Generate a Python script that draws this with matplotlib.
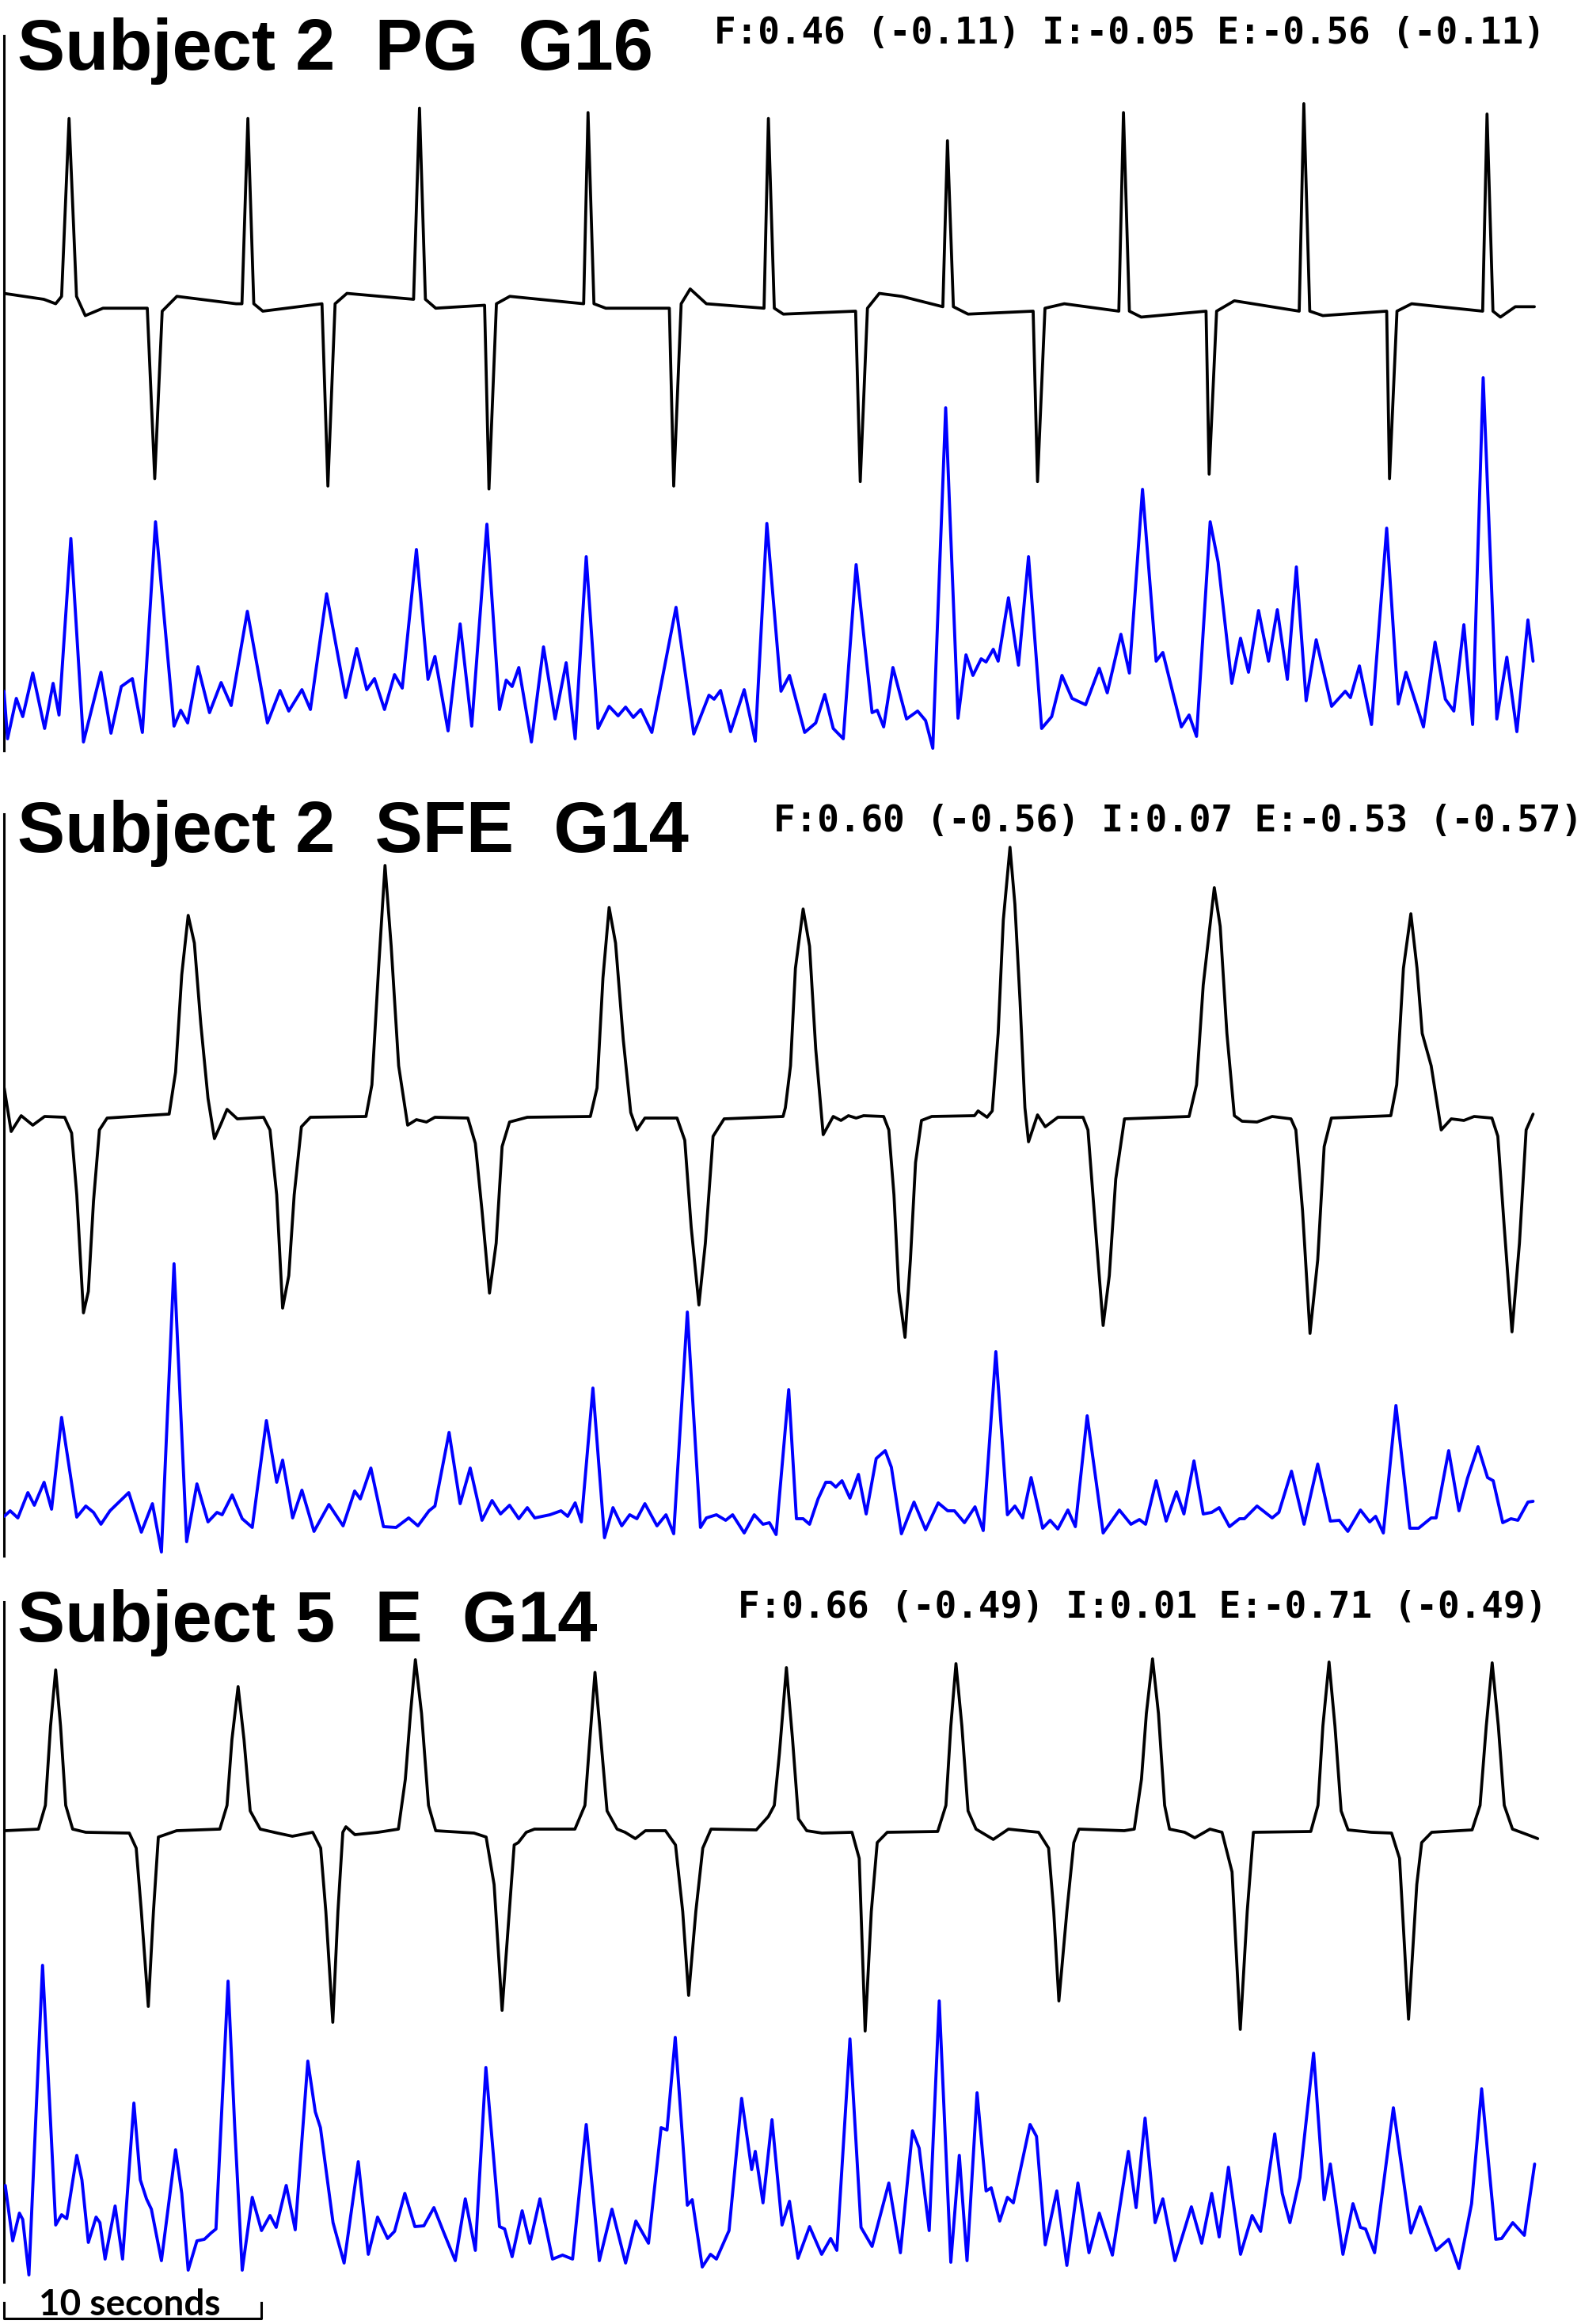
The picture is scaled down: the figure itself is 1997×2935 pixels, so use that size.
import matplotlib
matplotlib.use("Agg")
import matplotlib.pyplot as plt

# time in seconds, amplitude in arbitrary units

titles = ["Subject 2  PG  G16", "Subject 2  SFE  G14", "Subject 5  E  G14"]
scores = ["F:0.46 (-0.11) I:-0.05 E:-0.56 (-0.11)",
          "F:0.60 (-0.56) I:0.07 E:-0.53 (-0.57)",
          "F:0.66 (-0.49) I:0.01 E:-0.71 (-0.49)"]

pg_movement = [
    (0.00, 0.04), (1.55, 0.00), (2.01, -0.03), (2.24, 0.02), (2.53, 1.22), (2.82, 0.02), (3.16, -0.11), (3.85, -0.06),
    (5.57, -0.06), (5.86, -1.21), (6.15, -0.08), (6.72, 0.02),
    (9.02, -0.03), (9.25, -0.03), (9.48, 1.22), (9.71, -0.03), (10.06, -0.08),
    (12.36, -0.03), (12.59, -1.26), (12.87, -0.03), (13.33, 0.04),
    (15.92, 0.00), (16.15, 1.29), (16.38, 0.00), (16.78, -0.06),
    (18.68, -0.04), (18.85, -1.28), (19.14, -0.03), (19.66, 0.02),
    (22.53, -0.03), (22.70, 1.26), (22.93, -0.03), (23.39, -0.06),
    (25.86, -0.06), (26.03, -1.26), (26.32, -0.03), (26.67, 0.07), (27.30, -0.03),
    (29.54, -0.06), (29.71, 1.22), (29.94, -0.06), (30.29, -0.10),
    (33.10, -0.08), (33.28, -1.23), (33.56, -0.06), (34.02, 0.04), (34.89, 0.02),
    (36.49, -0.05), (36.67, 1.07), (36.90, -0.05), (37.47, -0.10),
    (40.00, -0.08), (40.17, -1.23), (40.46, -0.06), (41.21, -0.03),
    (43.33, -0.08), (43.51, 1.26), (43.74, -0.08), (44.20, -0.12),
    (46.72, -0.08), (46.84, -1.18), (47.13, -0.08), (47.82, -0.01),
    (50.34, -0.08), (50.52, 1.32), (50.75, -0.08), (51.26, -0.11),
    (53.74, -0.08), (53.85, -1.21), (54.14, -0.08), (54.71, -0.03),
    (57.47, -0.08), (57.64, 1.25), (57.87, -0.08), (58.16, -0.12), (58.74, -0.05), (59.48, -0.05),
]

pg_activity = [
    (0.00, 0.67), (0.14, 0.07), (0.48, 0.58), (0.73, 0.35), (1.12, 0.90), (1.58, 0.20), (1.91, 0.77), (2.14, 0.37),
    (2.60, 2.60), (3.09, 0.03), (3.77, 0.91), (4.16, 0.14), (4.56, 0.73), (4.99, 0.83), (5.38, 0.15), (5.89, 2.81),
    (6.61, 0.23), (6.87, 0.43), (7.14, 0.27), (7.54, 0.98), (7.99, 0.40), (8.44, 0.78), (8.83, 0.49), (9.46, 1.68),
    (10.24, 0.27), (10.73, 0.68), (11.07, 0.42), (11.58, 0.69), (11.91, 0.44), (12.54, 1.90), (13.28, 0.59),
    (13.71, 1.21), (14.10, 0.69), (14.40, 0.83), (14.79, 0.44), (15.18, 0.88), (15.48, 0.71), (16.03, 2.46),
    (16.48, 0.82), (16.75, 1.11), (17.26, 0.17), (17.73, 1.52), (18.18, 0.23), (18.77, 2.78), (19.26, 0.44),
    (19.52, 0.81), (19.75, 0.73), (20.01, 0.97), (20.50, 0.03), (20.97, 1.23), (21.42, 0.32), (21.85, 1.03),
    (22.20, 0.07), (22.63, 2.37), (23.09, 0.20), (23.52, 0.48), (23.87, 0.36), (24.16, 0.47), (24.46, 0.34),
    (24.75, 0.44), (25.18, 0.15), (26.12, 1.73), (26.81, 0.13), (27.40, 0.62), (27.60, 0.57), (27.85, 0.68),
    (28.24, 0.16), (28.77, 0.69), (29.20, 0.04), (29.65, 2.79), (30.20, 0.67), (30.53, 0.87),
    (31.12, 0.15), (31.55, 0.27), (31.90, 0.63), (32.23, 0.20), (32.62, 0.07), (33.12, 2.27), (33.74, 0.40),
    (33.94, 0.43), (34.19, 0.22), (34.55, 0.97), (35.08, 0.32), (35.51, 0.42), (35.82, 0.30), (36.10, -0.05),
    (36.60, 4.25), (37.08, 0.33), (37.39, 1.13), (37.66, 0.87), (37.98, 1.08), (38.17, 1.04), (38.45, 1.20),
    (38.64, 1.05), (39.04, 1.85), (39.43, 1.00), (39.82, 2.37), (40.33, 0.20), (40.72, 0.35), (41.12, 0.87),
    (41.51, 0.58), (42.04, 0.50), (42.57, 0.96), (42.88, 0.65), (43.41, 1.39), (43.74, 0.90), (44.25, 3.22),
    (44.78, 1.05), (45.04, 1.16), (45.76, 0.22), (46.06, 0.37), (46.35, 0.10), (46.88, 2.81), (47.19, 2.30),
    (47.72, 0.77), (48.06, 1.34), (48.37, 0.91), (48.76, 1.69), (49.15, 1.05), (49.49, 1.70), (49.88, 0.82),
    (50.23, 2.24), (50.61, 0.55), (51.00, 1.32), (51.60, 0.48), (52.13, 0.67), (52.33, 0.59), (52.68, 0.99),
    (53.15, 0.25), (53.74, 2.73), (54.19, 0.51), (54.49, 0.91), (55.17, 0.22), (55.62, 1.29), (56.02, 0.57),
    (56.35, 0.42), (56.74, 1.51), (57.08, 0.25), (57.49, 4.63), (58.02, 0.32), (58.41, 1.10), (58.80, 0.16),
    (59.23, 1.57), (59.43, 1.05),
]

sfe_movement = [
    (0.01, 0.37), (0.28, -0.18), (0.67, 0.02), (1.12, -0.10), (1.58, 0.01), (2.36, 0.00),
    (2.63, -0.20), (2.83, -0.98), (3.09, -2.47), (3.28, -2.20), (3.48, -1.06), (3.71, -0.16), (4.01, -0.01),
    (6.42, 0.04), (6.67, 0.57), (6.91, 1.80), (7.16, 2.55), (7.40, 2.20), (7.65, 1.18), (7.93, 0.24),
    (8.18, -0.27), (8.44, -0.08), (8.67, 0.10), (9.07, -0.02), (10.09, 0.00),
    (10.34, -0.16), (10.60, -0.98), (10.83, -2.41), (11.07, -2.00), (11.28, -0.98), (11.56, -0.12), (11.91, 0.00),
    (14.07, 0.01), (14.30, 0.41), (14.56, 1.88), (14.81, 3.18), (15.05, 2.16), (15.34, 0.65), (15.69, -0.10),
    (16.03, -0.03), (16.42, -0.06), (16.75, 0.00), (18.03, -0.01),
    (18.32, -0.33), (18.58, -1.18), (18.87, -2.22), (19.13, -1.59), (19.36, -0.37), (19.65, -0.06), (20.34, 0.00),
    (22.79, 0.01), (23.05, 0.37), (23.28, 1.76), (23.52, 2.65), (23.77, 2.20), (24.07, 0.98), (24.36, 0.06),
    (24.60, -0.16), (24.91, -0.01), (26.16, -0.01),
    (26.46, -0.29), (26.71, -1.39), (27.01, -2.37), (27.26, -1.59), (27.56, -0.24), (27.99, -0.02), (30.28, 0.01),
    (30.37, 0.12), (30.57, 0.65), (30.76, 1.88), (31.06, 2.63), (31.31, 2.16), (31.55, 0.86), (31.84, -0.22),
    (32.23, 0.01), (32.53, -0.04), (32.82, 0.02), (33.12, -0.01), (33.41, 0.02), (34.19, 0.01),
    (34.39, -0.16), (34.59, -0.98), (34.78, -2.20), (35.02, -2.78), (35.23, -1.80), (35.43, -0.57), (35.66, -0.04),
    (36.06, 0.01), (37.72, 0.02), (37.86, 0.08), (38.21, 0.00), (38.41, 0.08),
    (38.64, 1.06), (38.84, 2.49), (39.10, 3.41), (39.29, 2.69), (39.49, 1.47), (39.68, 0.12), (39.82, -0.31),
    (40.17, 0.03), (40.47, -0.12), (40.96, 0.00), (41.94, 0.00),
    (42.13, -0.16), (42.37, -1.18), (42.72, -2.63), (42.96, -2.00), (43.21, -0.78), (43.55, -0.02),
    (46.06, 0.01), (46.35, 0.41), (46.61, 1.67), (47.04, 2.90), (47.27, 2.41), (47.53, 1.06), (47.82, 0.02),
    (48.12, -0.05), (48.70, -0.06), (49.29, 0.01), (50.02, -0.02),
    (50.21, -0.16), (50.47, -1.18), (50.76, -2.73), (51.06, -1.80), (51.31, -0.37), (51.59, -0.01),
    (53.90, 0.02), (54.13, 0.41), (54.39, 1.88), (54.68, 2.57), (54.92, 1.88), (55.12, 1.06), (55.47, 0.65),
    (55.86, -0.16), (56.25, -0.02), (56.74, -0.04), (57.14, 0.01), (57.83, -0.01),
    (58.06, -0.24), (58.31, -1.39), (58.61, -2.71), (58.90, -1.59), (59.16, -0.16), (59.43, 0.04),
]

sfe_activity = [
    (0.01, 0.45), (0.24, 0.52), (0.54, 0.43), (0.93, 0.75), (1.18, 0.59), (1.56, 0.88), (1.85, 0.54),
    (2.24, 1.70), (2.83, 0.44), (3.18, 0.58), (3.48, 0.50), (3.77, 0.35), (4.12, 0.52), (4.85, 0.75),
    (5.34, 0.25), (5.77, 0.61), (6.12, 0.00), (6.61, 3.64), (7.10, 0.13), (7.50, 0.86), (7.93, 0.38),
    (8.28, 0.50), (8.48, 0.47), (8.87, 0.72), (9.26, 0.42), (9.65, 0.31), (10.20, 1.66), (10.60, 0.88),
    (10.83, 1.16), (11.22, 0.43), (11.58, 0.78), (12.05, 0.26), (12.63, 0.60), (13.18, 0.33), (13.63, 0.77),
    (13.85, 0.67), (14.26, 1.06), (14.75, 0.32), (15.24, 0.31), (15.73, 0.43), (16.09, 0.33), (16.52, 0.52),
    (16.75, 0.58), (17.30, 1.51), (17.73, 0.61), (18.12, 1.06), (18.58, 0.40), (18.97, 0.65), (19.30, 0.48),
    (19.65, 0.59), (20.01, 0.42), (20.34, 0.56), (20.63, 0.43), (21.22, 0.47), (21.65, 0.52), (21.91, 0.45),
    (22.20, 0.62), (22.44, 0.38), (22.89, 2.07), (23.34, 0.18), (23.67, 0.56), (24.01, 0.33), (24.32, 0.47),
    (24.60, 0.42), (24.91, 0.61), (25.38, 0.33), (25.73, 0.47), (26.03, 0.23), (26.56, 3.03), (27.07, 0.31),
    (27.30, 0.43), (27.69, 0.47), (28.05, 0.40), (28.32, 0.47), (28.77, 0.24), (29.16, 0.47), (29.50, 0.35),
    (29.75, 0.37), (30.01, 0.22), (30.50, 2.05), (30.80, 0.42), (31.06, 0.42), (31.31, 0.35), (31.64, 0.67),
    (31.94, 0.88), (32.13, 0.88), (32.33, 0.82), (32.57, 0.90), (32.88, 0.68), (33.21, 0.98), (33.51, 0.48),
    (33.90, 1.18), (34.25, 1.28), (34.49, 1.07), (34.88, 0.23), (35.37, 0.63), (35.82, 0.28), (36.31, 0.62),
    (36.68, 0.52), (36.94, 0.52), (37.33, 0.37), (37.74, 0.57), (38.06, 0.27), (38.55, 2.53), (39.00, 0.47),
    (39.29, 0.58), (39.59, 0.43), (39.92, 0.94), (40.37, 0.30), (40.66, 0.40), (40.96, 0.29), (41.35, 0.53),
    (41.64, 0.32), (42.10, 1.72), (42.72, 0.24), (43.35, 0.53), (43.80, 0.35), (44.13, 0.41), (44.37, 0.35),
    (44.78, 0.90), (45.17, 0.39), (45.57, 0.76), (45.86, 0.48), (46.25, 1.15), (46.61, 0.48), (46.94, 0.50),
    (47.23, 0.56), (47.63, 0.32), (48.02, 0.42), (48.21, 0.42), (48.70, 0.58), (49.29, 0.43), (49.55, 0.50),
    (50.04, 1.02), (50.53, 0.35), (51.06, 1.11), (51.55, 0.39), (51.90, 0.40), (52.23, 0.26), (52.72, 0.53),
    (53.08, 0.38), (53.31, 0.45), (53.61, 0.24), (54.10, 1.85), (54.64, 0.30), (54.98, 0.30), (55.47, 0.43),
    (55.66, 0.43), (56.15, 1.28), (56.55, 0.52), (56.88, 0.93), (57.29, 1.33), (57.66, 0.94), (57.88, 0.90),
    (58.25, 0.37), (58.57, 0.42), (58.84, 0.40), (59.23, 0.63), (59.43, 0.64),
]

e_movement = [
    (0.05, 0.01), (1.34, 0.03), (1.61, 0.33), (1.81, 1.33), (2.01, 2.04), (2.20, 1.33), (2.40, 0.33), (2.67, 0.03),
    (3.18, -0.01), (4.87, -0.02), (5.14, -0.21), (5.34, -1.01), (5.61, -2.21), (5.81, -1.01), (6.00, -0.07),
    (6.71, 0.01), (8.39, 0.03), (8.67, 0.33), (8.86, 1.16), (9.10, 1.83), (9.33, 1.16), (9.57, 0.26), (9.96, 0.03),
    (10.63, -0.02), (11.21, -0.06), (12.00, -0.01), (12.31, -0.21), (12.51, -1.01), (12.78, -2.41), (12.98, -1.01),
    (13.17, -0.01), (13.29, 0.06), (13.64, -0.04), (14.54, -0.01), (15.33, 0.03), (15.60, 0.66), (15.80, 1.49),
    (15.99, 2.17), (16.23, 1.49), (16.50, 0.33), (16.78, 0.01), (18.27, -0.02), (18.74, -0.07), (19.05, -0.67),
    (19.36, -2.26), (19.64, -1.01), (19.83, -0.17), (19.99, -0.14), (20.30, -0.01), (20.62, 0.03), (22.19, 0.03),
    (22.58, 0.33), (22.77, 1.16), (22.97, 2.01), (23.20, 1.16), (23.44, 0.26), (23.83, 0.03), (24.14, -0.01),
    (24.54, -0.09), (24.93, 0.01), (25.71, 0.01), (26.10, -0.17), (26.38, -1.01), (26.61, -2.07), (26.89, -1.01),
    (27.16, -0.21), (27.48, 0.03), (29.24, 0.02), (29.71, 0.19), (29.94, 0.33), (30.14, 0.99), (30.41, 2.07),
    (30.65, 1.16), (30.88, 0.16), (31.20, 0.01), (31.79, -0.02), (32.96, -0.01), (33.24, -0.34), (33.47, -2.52),
    (33.71, -1.01), (33.94, -0.14), (34.33, -0.01), (36.29, 0.00), (36.61, 0.33), (36.80, 1.33), (37.00, 2.12),
    (37.23, 1.33), (37.47, 0.26), (37.78, 0.03), (38.45, -0.10), (39.04, 0.03), (40.21, -0.01), (40.60, -0.21),
    (40.80, -1.01), (41.00, -2.14), (41.31, -1.01), (41.58, -0.14), (41.78, 0.03), (43.54, 0.01), (43.93, 0.03),
    (44.21, 0.66), (44.40, 1.49), (44.64, 2.18), (44.87, 1.49), (45.11, 0.33), (45.30, 0.03), (45.89, -0.01),
    (46.28, -0.08), (46.87, 0.03), (47.34, -0.01), (47.73, -0.51), (48.05, -2.50), (48.32, -1.01), (48.56, -0.01),
    (50.79, 0.00), (51.07, 0.33), (51.26, 1.33), (51.50, 2.14), (51.73, 1.33), (51.97, 0.26), (52.24, 0.02),
    (53.14, -0.01), (53.93, -0.02), (54.24, -0.34), (54.59, -2.37), (54.91, -0.67), (55.10, -0.14), (55.49, -0.01),
    (57.06, 0.02), (57.37, 0.33), (57.61, 1.33), (57.84, 2.13), (58.08, 1.33), (58.31, 0.33), (58.63, 0.03),
    (59.21, -0.04), (59.61, -0.09),
]

e_activity = [
    (0.05, 1.20), (0.34, 0.50), (0.60, 0.85), (0.73, 0.77), (0.97, 0.07), (1.50, 3.98), (1.77, 2.27), (2.01, 0.70),
    (2.24, 0.83), (2.44, 0.78), (2.83, 1.58), (3.03, 1.27), (3.28, 0.48), (3.58, 0.80), (3.73, 0.73), (3.93, 0.27),
    (4.32, 0.94), (4.61, 0.27), (5.05, 2.24), (5.30, 1.27), (5.54, 1.03), (5.73, 0.90), (6.12, 0.25), (6.67, 1.65),
    (6.91, 1.10), (7.16, 0.13), (7.50, 0.50), (7.79, 0.52), (8.05, 0.60), (8.24, 0.65), (8.71, 3.78), (8.97, 1.93),
    (9.26, 0.13), (9.65, 1.05), (10.01, 0.63), (10.34, 0.82), (10.58, 0.67), (10.97, 1.20), (11.32, 0.64),
    (11.81, 2.77), (12.10, 2.13), (12.30, 1.93), (12.79, 0.73), (13.22, 0.22), (13.77, 1.50), (14.16, 0.33),
    (14.52, 0.80), (14.91, 0.53), (15.18, 0.62), (15.58, 1.10), (15.97, 0.68), (16.32, 0.69), (16.71, 0.92),
    (17.10, 0.60), (17.54, 0.25), (17.93, 1.03), (18.32, 0.38), (18.73, 2.69), (19.26, 0.68), (19.46, 0.65),
    (19.75, 0.30), (20.14, 0.88), (20.44, 0.47), (20.83, 1.03), (21.32, 0.27), (21.71, 0.32), (22.10, 0.27),
    (22.63, 1.97), (23.14, 0.25), (23.63, 0.90), (24.16, 0.22), (24.56, 0.75), (25.05, 0.47), (25.54, 1.93),
    (25.77, 1.90), (26.09, 3.07), (26.56, 0.95), (26.75, 1.02), (27.14, 0.17), (27.46, 0.33), (27.69, 0.27),
    (28.18, 0.63), (28.67, 2.30), (29.06, 1.40), (29.20, 1.63), (29.50, 0.98), (29.85, 2.03), (30.24, 0.70),
    (30.53, 1.00), (30.86, 0.28), (31.31, 0.68), (31.78, 0.33), (32.13, 0.53), (32.37, 0.38), (32.88, 3.05),
    (33.31, 0.67), (33.74, 0.43), (34.39, 1.23), (34.84, 0.35), (35.31, 1.89), (35.57, 1.67), (35.96, 0.63),
    (36.35, 3.53), (36.80, 0.23), (37.13, 1.58), (37.43, 0.25), (37.82, 2.37), (38.17, 1.13), (38.37, 1.17),
    (38.70, 0.75), (39.00, 1.05), (39.23, 0.98), (39.88, 1.97), (40.13, 1.82), (40.47, 0.45), (40.92, 1.13),
    (41.31, 0.19), (41.74, 1.23), (42.17, 0.35), (42.57, 0.85), (43.08, 0.32), (43.70, 1.63), (44.00, 0.92),
    (44.35, 2.05), (44.74, 0.73), (45.04, 1.03), (45.51, 0.25), (46.15, 0.93), (46.55, 0.47), (46.94, 1.10),
    (47.23, 0.55), (47.59, 1.43), (48.06, 0.33), (48.51, 0.82), (48.84, 0.62), (49.39, 1.85), (49.68, 1.10),
    (49.98, 0.73), (50.37, 1.30), (50.90, 2.87), (51.31, 1.02), (51.55, 1.47), (52.04, 0.33), (52.43, 0.97),
    (52.72, 0.67), (52.92, 0.65), (53.27, 0.35), (54.00, 2.18), (54.68, 0.60), (55.04, 0.93), (55.66, 0.38),
    (56.15, 0.52), (56.55, 0.15), (57.04, 0.97), (57.43, 2.42), (57.98, 0.52), (58.21, 0.53), (58.64, 0.73),
    (59.09, 0.57), (59.49, 1.47),
]

movements = [pg_movement, sfe_movement, e_movement]
activities = [pg_activity, sfe_activity, e_activity]

# layout in output pixels
W, H, DPI = 1997, 2935, 100
X0, PX_PER_S = 5, 32.5
move_zero = [378, 1411, 2313]
move_scale = [187.2, 100, 100]
act_zero = [940, 1960, 2880]
act_scale = [100, 100, 100]
title_base = [88, 1076, 2073]
score_x = [902, 977, 932]
score_base = [55, 1050, 2043]
spine_span = [(45, 948), (1028, 1965), (2023, 2882)]

fig = plt.figure(figsize=(W / DPI, H / DPI), dpi=DPI)


def trace_axes(y0, s):
    ax = fig.add_axes([X0 / W, 0, 1 - X0 / W, 1])
    ax.set_xlim(0, (W - X0) / PX_PER_S)
    ax.set_ylim((y0 - H) / s, y0 / s)
    ax.axis('off')
    return ax


for i in range(3):
    ax_m = trace_axes(move_zero[i], move_scale[i])
    t, v = zip(*movements[i])
    ax_m.plot(t, v, color='black', lw=2.7, solid_joinstyle='round', solid_capstyle='round')
    top, bot = spine_span[i]
    ax_m.plot([0, 0], [(move_zero[i] - top) / move_scale[i], (move_zero[i] - bot) / move_scale[i]],
              color='black', lw=2.2, clip_on=False)

    ax_a = trace_axes(act_zero[i], act_scale[i])
    t, v = zip(*activities[i])
    ax_a.plot(t, v, color='#0000ff', lw=2.8, solid_joinstyle='round', solid_capstyle='round')

    fig.text(22 / W, 1 - title_base[i] / H, titles[i], family='Liberation Sans', weight='bold',
             fontsize=65, ha='left', va='baseline')
    fig.text(score_x[i] / W, 1 - score_base[i] / H, scores[i], family='DejaVu Sans Mono', weight='bold',
             fontsize=33, ha='left', va='baseline')

# 10 second scale bar under the last panel
ax_a.plot([0, 0, 10, 10], [-0.28, -0.48, -0.48, -0.28], color='black', lw=2.2, clip_on=False)
ax_a.text(4.9, -0.44, "10 seconds", family='Lato', weight='bold', fontsize=33, ha='center', va='baseline')

fig.savefig("out.png", dpi=DPI)
